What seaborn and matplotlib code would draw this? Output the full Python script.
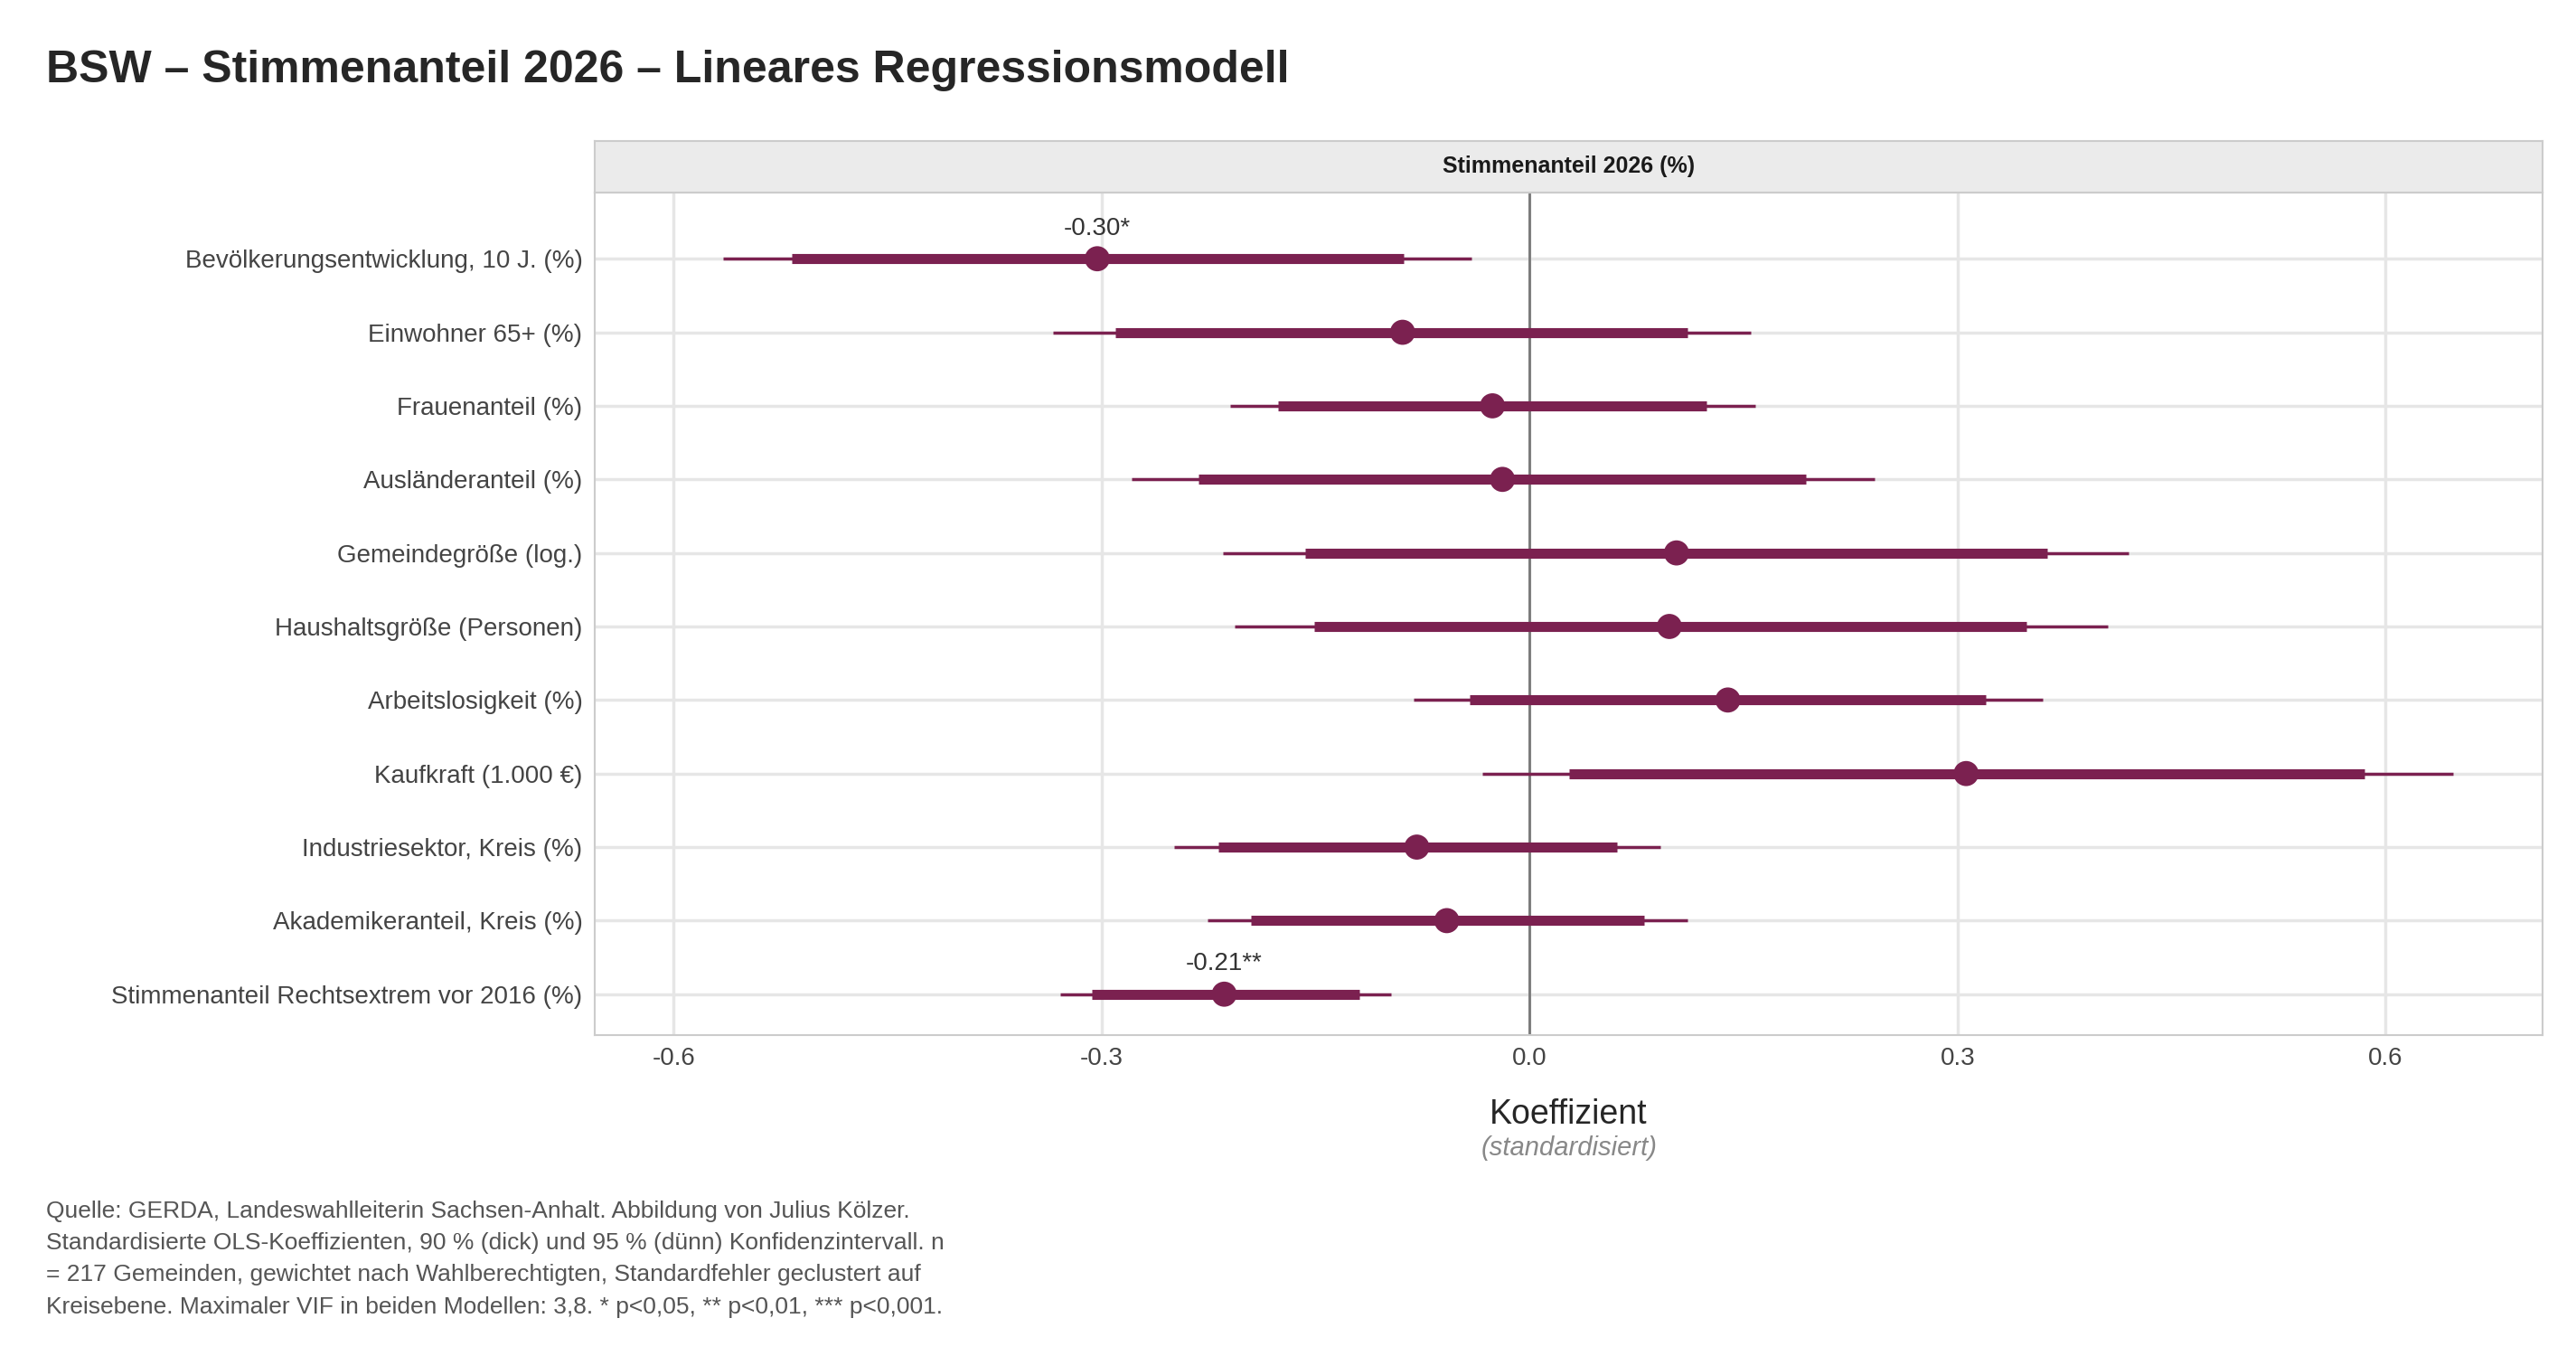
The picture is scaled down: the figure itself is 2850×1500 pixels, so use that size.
import matplotlib
matplotlib.use("Agg")
import matplotlib.pyplot as plt
import seaborn as sns
import pandas as pd

# coefficients
terms = ["Bevölkerungsentwicklung, 10 J. (%)", "Einwohner 65+ (%)", "Frauenanteil (%)",
         "Ausländeranteil (%)", "Gemeindegröße (log.)", "Haushaltsgröße (Personen)",
         "Arbeitslosigkeit (%)", "Kaufkraft (1.000 €)", "Industriesektor, Kreis (%)",
         "Akademikeranteil, Kreis (%)", "Stimmenanteil Rechtsextrem vor 2016 (%)"]
estimate = [-0.303, -0.089, -0.026, -0.019, 0.103, 0.098, 0.139, 0.306, -0.079, -0.058, -0.214]
lo90 = [-0.517, -0.290, -0.176, -0.232, -0.157, -0.151, -0.042, 0.028, -0.218, -0.195, -0.307]
hi90 = [-0.088, 0.111, 0.124, 0.194, 0.363, 0.348, 0.320, 0.585, 0.061, 0.080, -0.119]
lo95 = [-0.565, -0.334, -0.210, -0.279, -0.215, -0.207, -0.081, -0.033, -0.249, -0.226, -0.329]
hi95 = [-0.041, 0.155, 0.158, 0.242, 0.420, 0.405, 0.360, 0.647, 0.092, 0.111, -0.097]
labels = ["-0.30*", "", "", "", "", "", "", "", "", "", "-0.21**"]

df = pd.DataFrame({"term": terms, "est": estimate, "lo90": lo90, "hi90": hi90,
                   "lo95": lo95, "hi95": hi95, "lab": labels})
df["y"] = range(len(df))

sns.set_theme(style="whitegrid")
plt.rcParams["font.family"] = ["Liberation Sans", "DejaVu Sans"]
col = "#7B2150"

fig = plt.figure(figsize=(28.5, 15), dpi=100)
ax = fig.add_axes([0.231, 0.237, 0.756, 0.621])
ax.hlines(df["y"], df["lo95"], df["hi95"], color=col, lw=2.5, zorder=3)
ax.hlines(df["y"], df["lo90"], df["hi90"], color=col, lw=8, zorder=3)
sns.scatterplot(data=df, x="est", y="y", color=col, s=400, edgecolor="none", zorder=4, ax=ax)
for _, r in df.iterrows():
    if r["lab"]:
        ax.text(r["est"], r["y"] - 0.25, r["lab"], ha="center", va="bottom", fontsize=20, color="#333333")
ax.axvline(0, color="#777777", lw=2, zorder=2)
ax.set_ylim(len(df) - 0.45, -0.9)
ax.set_xlim(-0.655, 0.71)
ax.set_yticks(df["y"])
ax.set_yticklabels(df["term"], fontsize=20, color="#444444")
ax.set_xticks([-0.6, -0.3, 0, 0.3, 0.6])
ax.set_xticklabels(["-0.6", "-0.3", "0.0", "0.3", "0.6"], fontsize=20, color="#444444")
ax.tick_params(length=0, pad=10)
ax.grid(color="#e6e6e6", lw=2.5)
for s in ax.spines.values():
    s.set_color("#cccccc")
    s.set_linewidth(1.5)
ax.set_xlabel("")
ax.set_ylabel("")

# facet strip
strip = fig.add_axes([0.231, 0.858, 0.756, 0.038])
strip.set_facecolor("#ebebeb")
strip.set_xticks([])
strip.set_yticks([])
for s in strip.spines.values():
    s.set_color("#cccccc")
    s.set_linewidth(1.5)
strip.text(0.5, 0.5, "Stimmenanteil 2026 (%)", ha="center", va="center",
           fontsize=18, fontweight="bold", color="#1a1a1a", transform=strip.transAxes)

fig.text(0.018, 0.948, "BSW – Stimmenanteil 2026 – Lineares Regressionsmodell",
         fontsize=36, fontweight="bold", va="center")
fig.text(0.609, 0.178, "Koeffizient", fontsize=27, ha="center", va="center")
fig.text(0.609, 0.153, "(standardisiert)", fontsize=21, ha="center", va="center",
         style="italic", color="#888888")
caption = ("Quelle: GERDA, Landeswahlleiterin Sachsen-Anhalt. Abbildung von Julius Kölzer.\n"
           "Standardisierte OLS-Koeffizienten, 90 % (dick) und 95 % (dünn) Konfidenzintervall. n\n"
           "= 217 Gemeinden, gewichtet nach Wahlberechtigten, Standardfehler geclustert auf\n"
           "Kreisebene. Maximaler VIF in beiden Modellen: 3,8. * p<0,05, ** p<0,01, *** p<0,001.")
fig.text(0.018, 0.115, caption, fontsize=19, color="#555555", va="top", linespacing=1.6)

fig.savefig("out.png", dpi=100, facecolor="white")
